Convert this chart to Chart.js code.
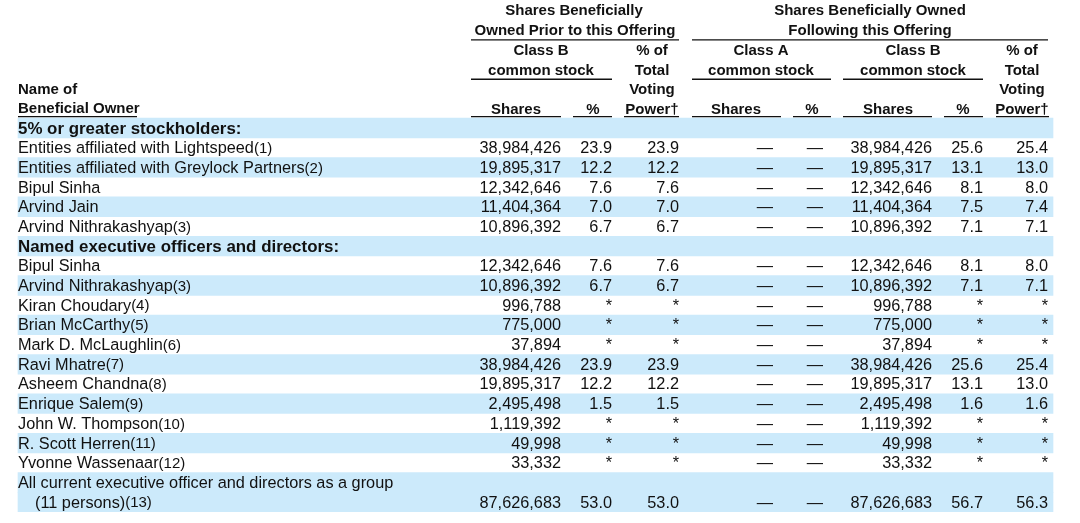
<!DOCTYPE html>
<html>
<head>
<meta charset="utf-8">
<script src="https://cdn.jsdelivr.net/npm/chart.js@4/dist/chart.umd.min.js"></script>
<style>
  html, body { margin: 0; padding: 0; background: #fff; }
  #wrap { width: 1080px; height: 523px; position: relative; }
</style>
</head>
<body>
<div id="wrap"><canvas id="ownersChart"></canvas></div>
<script>
// one entry per printed line of the table body
var owners = [
  "5% or greater stockholders:",
  "Entities affiliated with Lightspeed",
  "Entities affiliated with Greylock Partners",
  "Bipul Sinha",
  "Arvind Jain",
  "Arvind Nithrakashyap",
  "Named executive officers and directors:",
  "Bipul Sinha",
  "Arvind Nithrakashyap",
  "Kiran Choudary",
  "Brian McCarthy",
  "Mark D. McLaughlin",
  "Ravi Mhatre",
  "Asheem Chandna",
  "Enrique Salem",
  "John W. Thompson",
  "R. Scott Herren",
  "Yvonne Wassenaar",
  "All current executive officer and directors as a group",
  "(11 persons)"
];
var footnotes = ["", "(1)", "(2)", "", "", "(3)", "", "", "(3)", "(4)", "(5)", "(6)",
  "(7)", "(8)", "(9)", "(10)", "(11)", "(12)", "", "(13)"];
var sectionLines = [0, 6];      // bold group headings
var continuedLines = [19];      // second line of the previous row

// null = no figure on that line; for percentages null on a data line = "*" (less than 1%)
var priorClassBShares = [null, 38984426, 19895317, 12342646, 11404364, 10896392, null,
  12342646, 10896392, 996788, 775000, 37894, 38984426, 19895317, 2495498, 1119392,
  49998, 33332, null, 87626683];
var priorClassBPct = [null, 23.9, 12.2, 7.6, 7.0, 6.7, null, 7.6, 6.7, null, null, null,
  23.9, 12.2, 1.5, null, null, null, null, 53.0];
var priorVotingPct = [null, 23.9, 12.2, 7.6, 7.0, 6.7, null, 7.6, 6.7, null, null, null,
  23.9, 12.2, 1.5, null, null, null, null, 53.0];
var postClassAShares = "\u2014";
var postClassAPct = "\u2014";
var postClassBShares = [null, 38984426, 19895317, 12342646, 11404364, 10896392, null,
  12342646, 10896392, 996788, 775000, 37894, 38984426, 19895317, 2495498, 1119392,
  49998, 33332, null, 87626683];
var postClassBPct = [null, 25.6, 13.1, 8.1, 7.5, 7.1, null, 8.1, 7.1, null, null, null,
  25.6, 13.1, 1.6, null, null, null, null, 56.7];
var postVotingPct = [null, 25.4, 13.0, 8.0, 7.4, 7.1, null, 8.0, 7.1, null, null, null,
  25.4, 13.0, 1.6, null, null, null, null, 56.3];

// header text, line by line (6 lines above the body)
var headerLines = [
  [["Shares Beneficially", 574], ["Shares Beneficially Owned", 870]],
  [["Owned Prior to this Offering", 575], ["Following this Offering", 870]],
  [["Class B", 541], ["% of", 652], ["Class A", 761], ["Class B", 913], ["% of", 1022]],
  [["common stock", 541], ["Total", 652], ["common stock", 761], ["common stock", 913], ["Total", 1022]],
  [["Voting", 652], ["Voting", 1022]],
  [["Shares", 516], ["%", 593], ["Power\u2020", 652], ["Shares", 736], ["%", 812],
   ["Shares", 888], ["%", 963], ["Power\u2020", 1022]]
];
var leftHeader = [[4, "Name of"], [5, "Beneficial Owner"]];

// layout (x in scale units = px across the page)
var NAME_X = 18;
var BAND = [18, 1053];
var colRight = { priorShares: 561, priorPct: 612, priorVote: 679, aShares: 773, aPct: 823,
  postShares: 932, postPct: 983, postVote: 1048 };
var rules = [
  [1, 471, 679], [1, 692, 1048],
  [3, 471, 612], [3, 692, 831], [3, 843, 983],
  [5, 18, 137], [5, 471, 561], [5, 573, 612], [5, 624, 679], [5, 692, 781],
  [5, 793, 831], [5, 843, 932], [5, 944, 983], [5, 996, 1049]
];

var FONT = '"Liberation Sans", Arial, sans-serif';
var INK = "#111";
var STRIPE = "#cceafb";

var H = headerLines.length;
var slots = [];
for (var i = 0; i < H + owners.length; i++) slots.push("line" + i);

function shaded(i) {
  if (continuedLines.indexOf(i) >= 0) return shaded(i - 1);
  var row = 0;
  for (var k = 0; k < i; k++) if (continuedLines.indexOf(k + 1) < 0) row++;
  return row % 2 === 0;
}
var bands = slots.map(function (s, i) {
  return (i >= H && shaded(i - H)) ? BAND : null;
});

function fmtShares(v) { return v.toLocaleString("en-US"); }
function fmtPct(v) { return v === null ? "*" : v.toFixed(1); }

var tableText = {
  id: "tableText",
  afterDatasetsDraw: function (chart) {
    var ctx = chart.ctx, x = chart.scales.x, y = chart.scales.y;
    var step = y.getPixelForValue(1) - y.getPixelForValue(0);
    ctx.save();
    ctx.fillStyle = INK;
    ctx.textBaseline = "middle";

    // header
    ctx.font = "bold 15px " + FONT;
    ctx.textAlign = "center";
    headerLines.forEach(function (line, li) {
      line.forEach(function (t) {
        ctx.fillText(t[0], x.getPixelForValue(t[1]), y.getPixelForValue(li) + 1.5);
      });
    });
    ctx.textAlign = "left";
    leftHeader.forEach(function (t) {
      ctx.fillText(t[1], x.getPixelForValue(NAME_X), y.getPixelForValue(t[0]) + 1);
    });
    ctx.strokeStyle = INK;
    ctx.lineWidth = 1.4;
    rules.forEach(function (r) {
      var yy = y.getPixelForValue(r[0]) + step / 2 - (r[0] === 5 ? 1.5 : -0.5);
      ctx.beginPath();
      ctx.moveTo(x.getPixelForValue(r[1]), yy);
      ctx.lineTo(x.getPixelForValue(r[2]), yy);
      ctx.stroke();
    });

    // body
    owners.forEach(function (name, i) {
      var yy = y.getPixelForValue(H + i) + 1;
      var xName = x.getPixelForValue(NAME_X + (continuedLines.indexOf(i) >= 0 ? 17 : 0));
      ctx.textAlign = "left";
      if (sectionLines.indexOf(i) >= 0) {
        ctx.font = "bold 16.9px " + FONT;
        ctx.fillText(name, xName, yy);
        return;
      }
      ctx.font = "16.3px " + FONT;
      ctx.fillText(name, xName, yy);
      if (footnotes[i]) {
        var w = ctx.measureText(name).width;
        ctx.font = "15px " + FONT;
        ctx.fillText(footnotes[i], xName + w, yy);
      }
      if (priorClassBShares[i] === null) return;
      ctx.font = "16.3px " + FONT;
      ctx.textAlign = "right";
      var cells = [
        [colRight.priorShares, fmtShares(priorClassBShares[i])],
        [colRight.priorPct, fmtPct(priorClassBPct[i])],
        [colRight.priorVote, fmtPct(priorVotingPct[i])],
        [colRight.aShares, postClassAShares],
        [colRight.aPct, postClassAPct],
        [colRight.postShares, fmtShares(postClassBShares[i])],
        [colRight.postPct, fmtPct(postClassBPct[i])],
        [colRight.postVote, fmtPct(postVotingPct[i])]
      ];
      cells.forEach(function (c) {
        ctx.fillText(c[1], x.getPixelForValue(c[0]), yy);
      });
    });
    ctx.restore();
  }
};

new Chart("ownersChart", {
  type: "bar",
  data: {
    labels: slots,
    datasets: [{
      data: bands,
      backgroundColor: STRIPE,
      borderWidth: 0,
      barPercentage: 1,
      categoryPercentage: 1
    }]
  },
  options: {
    indexAxis: "y",
    responsive: true,
    maintainAspectRatio: false,
    animation: false,
    layout: { padding: { left: 0, right: 0, top: 0, bottom: 11 } },
    scales: {
      x: { type: "linear", min: 0, max: 1080, display: false },
      y: { type: "category", display: false }
    },
    plugins: { legend: { display: false }, tooltip: { enabled: false } }
  },
  plugins: [tableText]
});
</script>
</body>
</html>
